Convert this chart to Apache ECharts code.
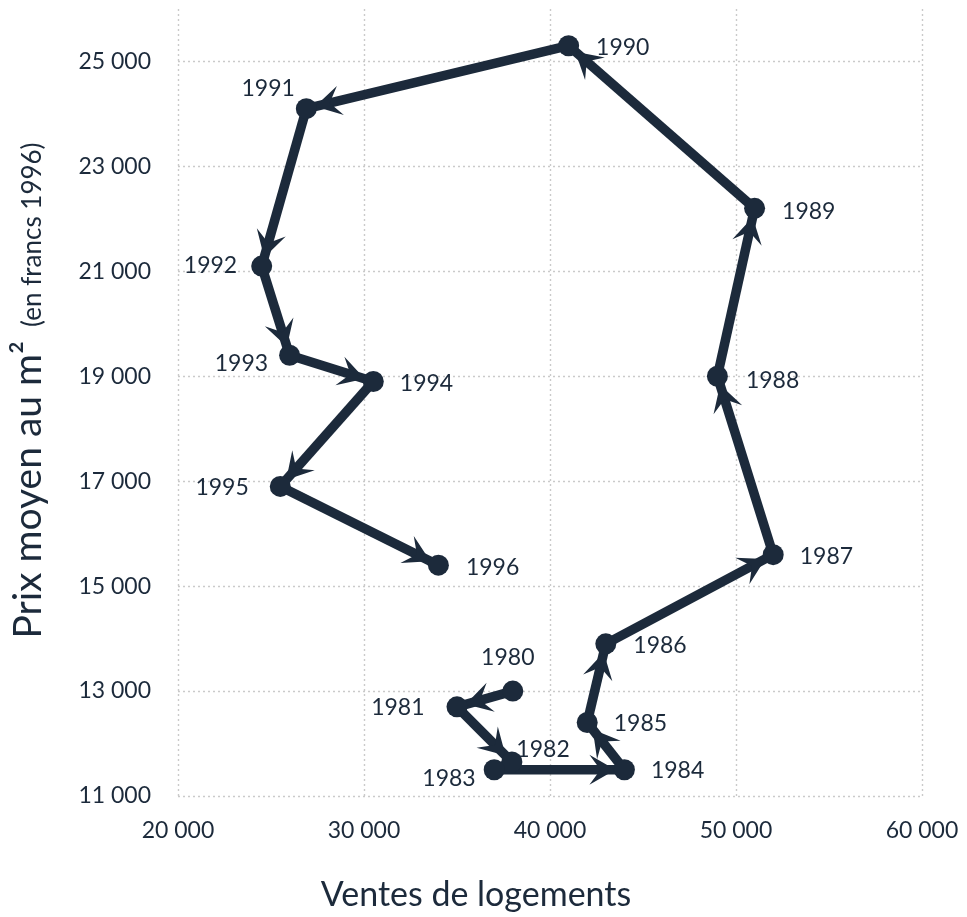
<!DOCTYPE html>
<html><head><meta charset="utf-8">
<script src="https://cdn.jsdelivr.net/npm/echarts@6/dist/echarts.min.js"></script>
<style>html,body{margin:0;padding:0;background:#fff}#c{width:967px;height:917px}</style>
</head><body><div id="c"></div>
<script>
// ---- data ----
const years  = [1980, 1981, 1982, 1983, 1984, 1985, 1986, 1987, 1988, 1989, 1990, 1991, 1992, 1993, 1994, 1995, 1996];
const sales  = [38000, 35000, 37950, 37000, 44000, 42000, 43000, 52000, 49000, 51000, 41000, 26900, 24500, 26000, 30500, 25500, 34000];
const prices = [13000, 12700, 11650, 11500, 11500, 12400, 13900, 15600, 19000, 22200, 25300, 24100, 21100, 19400, 18900, 16900, 15400];
const xTicks = [20000, 30000, 40000, 50000, 60000];
const yTicks = [11000, 13000, 15000, 17000, 19000, 21000, 23000, 25000];
const xTitle = 'Ventes de logements';
const yTitleMain = 'Prix moyen au m²';
const yTitleSub = '(en francs 1996)';

// ---- layout of year labels (presentation only) ----
const labelLayout = {
  1980: {position: 'top', distance: 11, offset: [-5, 0]},
  1981: {position: 'left', distance: 22, offset: [0, 1]},
  1982: {position: 'right', distance: -6, offset: [0, -12]},
  1983: {position: 'left', distance: 8, offset: [0, 9]},
  1984: {position: 'right', distance: 16, offset: [0, 1]},
  1985: {position: 'right', distance: 16, offset: [0, 1]},
  1986: {position: 'right', distance: 17, offset: [0, 2]},
  1987: {position: 'right', distance: 16, offset: [0, 2]},
  1988: {position: 'right', distance: 18, offset: [0, 4]},
  1989: {position: 'right', distance: 17, offset: [0, 3]},
  1990: {position: 'right', distance: 17, offset: [0, 2]},
  1991: {position: 'left', distance: 1, offset: [0, -20]},
  1992: {position: 'left', distance: 14, offset: [0, -1]},
  1993: {position: 'left', distance: 11, offset: [0, 8]},
  1994: {position: 'right', distance: 16, offset: [0, 2]},
  1995: {position: 'left', distance: 21, offset: [0, 1]},
  1996: {position: 'right', distance: 17, offset: [0, 2]}
};

const INK = '#1c2a3b';
const FONT = 'Lato, "Open Sans", sans-serif';
const fmt = v => String(v).replace(/\B(?=(\d{3})+(?!\d))/g, ' ');

const points = years.map((y, i) => ({
  value: [sales[i], prices[i]],
  name: String(y),
  label: labelLayout[y]
}));
const segments = [];
for (let i = 0; i < years.length - 1; i++) {
  segments.push([sales[i], prices[i], sales[i + 1], prices[i + 1]]);
}

const chart = echarts.init(document.getElementById('c'), null, {renderer: 'canvas'});
const grid = {left: 178, right: 45, top: 9, bottom: 120};
const gridLine = {show: true, lineStyle: {color: '#cacaca', width: 1.4, type: [2, 3]}};

chart.setOption({
  animation: false,
  backgroundColor: '#fff',
  textStyle: {fontFamily: FONT},
  grid: grid,
  xAxis: {
    type: 'value',
    min: xTicks[0], max: xTicks[xTicks.length - 1], interval: xTicks[1] - xTicks[0],
    axisLine: {show: false}, axisTick: {show: false},
    splitLine: gridLine,
    axisLabel: {margin: 23, fontSize: 23, color: INK, fontFamily: FONT, formatter: fmt},
    name: xTitle, nameLocation: 'middle', nameGap: 82,
    nameTextStyle: {fontSize: 34, color: INK, fontFamily: FONT, padding: [0, 148, 0, 0]}
  },
  yAxis: {
    type: 'value',
    min: yTicks[0], max: 26000, interval: yTicks[1] - yTicks[0],
    axisLine: {show: false}, axisTick: {show: false},
    splitLine: Object.assign({showMaxLine: false}, gridLine),
    axisLabel: {margin: 27, fontSize: 23, color: INK, fontFamily: FONT, formatter: fmt, showMaxLabel: false},
    name: '{a|' + yTitleMain + '}{b|' + yTitleSub + '}',
    nameLocation: 'middle', nameGap: 130,
    nameTextStyle: {
      color: INK, fontFamily: FONT, padding: [0, 0, 0, 24],
      rich: {
        a: {fontSize: 39, color: INK, fontFamily: FONT, verticalAlign: 'bottom', lineHeight: 44},
        b: {fontSize: 26, color: INK, fontFamily: FONT, verticalAlign: 'bottom', lineHeight: 44, padding: [0, 0, 2, 14]}
      }
    }
  },
  series: [
    {
      type: 'custom',
      coordinateSystem: 'cartesian2d',
      encode: {x: [0, 2], y: [1, 3]},
      data: segments,
      z: 2,
      renderItem: function (params, api) {
        const p0 = api.coord([api.value(0), api.value(1)]);
        const p1 = api.coord([api.value(2), api.value(3)]);
        const dx = p1[0] - p0[0], dy = p1[1] - p0[1];
        const L = Math.hypot(dx, dy) || 1;
        const ux = dx / L, uy = dy / L, nx = -uy, ny = ux;
        const children = [{
          type: 'line',
          shape: {x1: p0[0], y1: p0[1], x2: p1[0], y2: p1[1]},
          style: {stroke: INK, lineWidth: 9.5, lineCap: 'butt'}
        }];
        if (L > 35) {
          const tipBack = 9, len = 26, half = 15, notch = 15;
          const tip = [p1[0] - ux * tipBack, p1[1] - uy * tipBack];
          const base = [tip[0] - ux * len, tip[1] - uy * len];
          const nt = [tip[0] - ux * notch, tip[1] - uy * notch];
          children.push({
            type: 'polygon',
            shape: {points: [tip, [base[0] + nx * half, base[1] + ny * half], nt, [base[0] - nx * half, base[1] - ny * half]]},
            style: {fill: INK}
          });
        }
        return {type: 'group', children: children};
      }
    },
    {
      type: 'scatter',
      data: points,
      symbol: 'circle',
      symbolSize: 21,
      z: 3,
      itemStyle: {color: INK, opacity: 1},
      label: {
        show: true,
        formatter: '{b}',
        fontSize: 23,
        color: INK,
        fontFamily: FONT
      }
    }
  ]
});
</script>
</body></html>
